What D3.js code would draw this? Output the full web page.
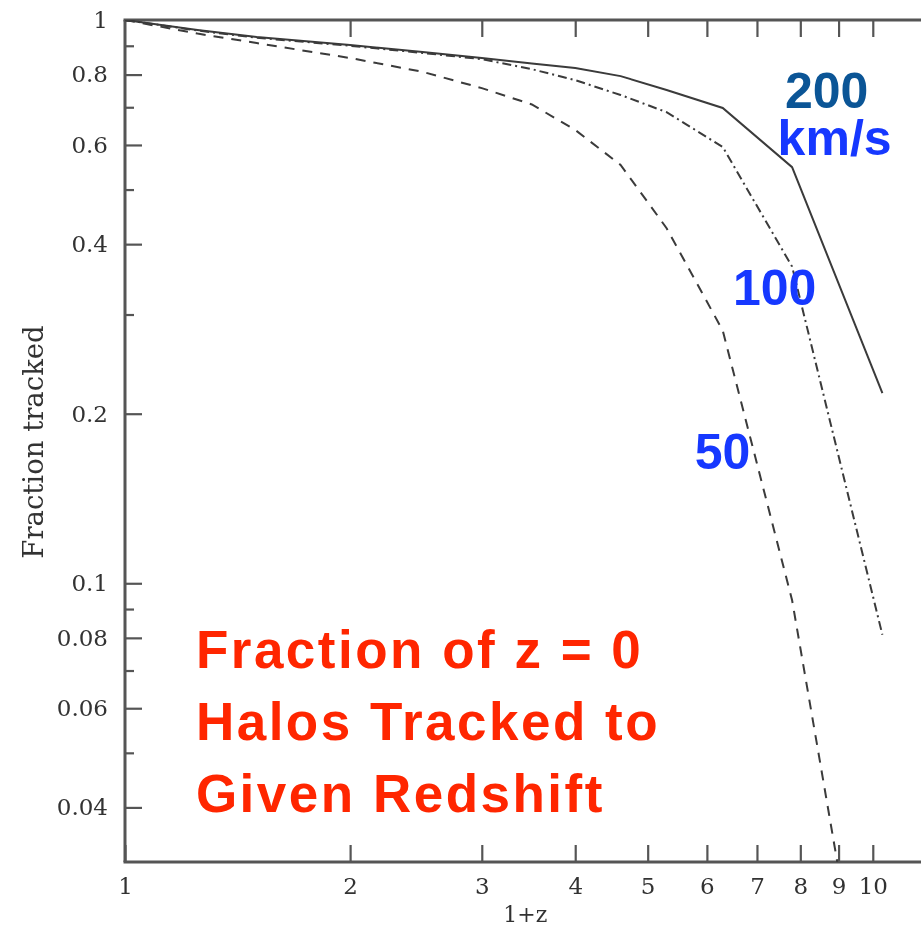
<!DOCTYPE html>
<html>
<head>
<meta charset="utf-8">
<script src="https://cdn.jsdelivr.net/npm/d3@7"></script>
<style>
  body { margin: 0; background: #fff; }
  svg { display: block; }
</style>
</head>
<body>
<svg id="chart" width="921" height="927"></svg>
<script>
// 1+z sample points shared by all three circular-velocity curves
const onePlusZ = [1, 1.25, 1.5, 2, 2.5, 3, 3.5, 4, 4.6, 5.3, 6.3, 7.8, 10.3];
// fraction of z = 0 halos still tracked, per circular velocity
const frac200 = [1, 0.960, 0.933, 0.903, 0.877, 0.856, 0.837, 0.822, 0.795, 0.751, 0.698, 0.548, 0.2175];
const frac100 = [1, 0.958, 0.930, 0.900, 0.874, 0.852, 0.818, 0.782, 0.736, 0.686, 0.595, 0.365, 0.081];
const frac50  = [1, 0.946, 0.910, 0.856, 0.809, 0.757, 0.708, 0.638, 0.553, 0.427, 0.281, 0.0933, 0.011];

const xTicks = [1, 2, 3, 4, 5, 6, 7, 8, 9, 10];
const yMajorTicks = [1, 0.8, 0.6, 0.4, 0.2, 0.1, 0.08, 0.06, 0.04];
const yMinorTicks = [0.9, 0.7, 0.5, 0.3, 0.09, 0.07, 0.05];

const xDomain = [1, 12];
const yDomain = [0.032, 1];

// curve labels, anchored in data coordinates (1+z, fraction)
const velocityLabel = { value: "200", unit: "km/s", x: 7.63, y: 0.698, unitX: 7.46, unitY: 0.576 };
const curveLabels = [
  { text: "100", x: 6.50, y: 0.312 },
  { text: "50",  x: 5.78, y: 0.1594 }
];
const noteLines = ["Fraction of z = 0", "Halos Tracked to", "Given Redshift"];
const noteBaselines = [0.0706, 0.0526, 0.0392];
const noteX = 1.244;
const xTitleAt = 3.43;

const svg = d3.select("#chart");
const W = 921, H = 927;
const plot = { left: 125, top: 20, right: 932, bottom: 862 };

svg.append("rect").attr("width", W).attr("height", H).attr("fill", "#fff");

const x = d3.scaleLog().domain(xDomain).range([plot.left, plot.right]);
const y = d3.scaleLog().domain(yDomain).range([plot.bottom, plot.top]);

const defs = svg.append("defs");
defs.append("filter").attr("id", "soft")
  .attr("x", "-5%").attr("y", "-5%").attr("width", "110%").attr("height", "110%")
  .append("feGaussianBlur").attr("stdDeviation", 0.6);
defs.append("clipPath").attr("id", "plotClip")
  .append("rect")
  .attr("x", plot.left).attr("y", plot.top)
  .attr("width", plot.right - plot.left).attr("height", plot.bottom - plot.top);

const fig = svg.append("g").attr("filter", "url(#soft)");

const axisColor = "#555";
const labelFont = "'DejaVu Serif', serif";

function styleAxis(g, showLabels) {
  g.select(".domain").remove();
  g.selectAll(".tick line").attr("stroke", axisColor).attr("stroke-width", 2.2);
  g.selectAll(".tick text")
    .attr("fill", "#333")
    .style("font-family", labelFont)
    .style("font-size", "23px");
  if (!showLabels) g.selectAll(".tick text").remove();
}

// left axis: major ticks with labels, minor ticks without
fig.append("g")
  .attr("transform", `translate(${plot.left},0)`)
  .call(d3.axisLeft(y).tickValues(yMajorTicks).tickSizeInner(-17).tickSizeOuter(0)
    .tickPadding(17).tickFormat(d => String(d)))
  .call(g => styleAxis(g, true));
fig.append("g")
  .attr("transform", `translate(${plot.left},0)`)
  .call(d3.axisLeft(y).tickValues(yMinorTicks).tickSizeInner(-9).tickSizeOuter(0))
  .call(g => styleAxis(g, false));

// bottom axis with labels, top axis mirrored ticks
fig.append("g")
  .attr("transform", `translate(0,${plot.bottom})`)
  .call(d3.axisBottom(x).tickValues(xTicks).tickSizeInner(-17).tickSizeOuter(0)
    .tickPadding(16).tickFormat(d => String(d)))
  .call(g => styleAxis(g, true));
fig.append("g")
  .attr("transform", `translate(0,${plot.top})`)
  .call(d3.axisTop(x).tickValues(xTicks.slice(1)).tickSizeInner(-17).tickSizeOuter(0))
  .call(g => styleAxis(g, false));

// frame lines
const frame = fig.append("g").attr("stroke", axisColor).attr("stroke-width", 3).attr("fill", "none");
frame.append("line").attr("x1", plot.left - 1.5).attr("x2", plot.right).attr("y1", plot.top).attr("y2", plot.top);
frame.append("line").attr("x1", plot.left - 1.5).attr("x2", plot.right).attr("y1", plot.bottom).attr("y2", plot.bottom);
frame.append("line").attr("x1", plot.left).attr("x2", plot.left).attr("y1", plot.top).attr("y2", plot.bottom);

// axis titles
fig.append("text")
  .attr("x", x(xTitleAt)).attr("y", 922)
  .attr("text-anchor", "middle")
  .attr("fill", "#333")
  .style("font-family", labelFont).style("font-size", "22px")
  .text("1+z");
fig.append("text")
  .attr("transform", `translate(43,${(plot.top + plot.bottom) / 2 + 1}) rotate(-90)`)
  .attr("text-anchor", "middle")
  .attr("fill", "#333")
  .style("font-family", labelFont).style("font-size", "27.5px")
  .text("Fraction tracked");

// curves
const series = [
  { values: frac200, dash: null },
  { values: frac100, dash: "9,4,2,4" },
  { values: frac50,  dash: "10,8" }
];
const line = d3.line().x(d => x(d[0])).y(d => y(d[1]));
const curves = fig.append("g").attr("clip-path", "url(#plotClip)");
series.forEach(s => {
  curves.append("path")
    .datum(onePlusZ.map((z, i) => [z, s.values[i]]))
    .attr("d", line)
    .attr("fill", "none")
    .attr("stroke", "#3a3a3a")
    .attr("stroke-width", 2)
    .attr("stroke-dasharray", s.dash);
});

// coloured annotations
const ann = svg.append("g")
  .style("font-family", "'Liberation Sans', Arial, sans-serif")
  .style("font-weight", "bold");

const vLabel = ann.append("text").style("font-size", "50px");
vLabel.append("tspan")
  .attr("x", x(velocityLabel.x)).attr("y", y(velocityLabel.y))
  .attr("fill", "#0b5596")
  .text(velocityLabel.value);
vLabel.append("tspan")
  .attr("x", x(velocityLabel.unitX)).attr("y", y(velocityLabel.unitY))
  .attr("fill", "#1638ff")
  .text(velocityLabel.unit);

ann.selectAll("text.curve-label")
  .data(curveLabels)
  .join("text")
  .attr("class", "curve-label")
  .attr("x", d => x(d.x)).attr("y", d => y(d.y))
  .attr("fill", "#1638ff")
  .style("font-size", "50px")
  .text(d => d.text);

ann.selectAll("text.note")
  .data(noteLines)
  .join("text")
  .attr("class", "note")
  .attr("x", x(noteX))
  .attr("y", (d, i) => y(noteBaselines[i]))
  .attr("fill", "#ff2600")
  .style("font-size", "53px")
  .style("letter-spacing", "2.5px")
  .text(d => d);
</script>
</body>
</html>
